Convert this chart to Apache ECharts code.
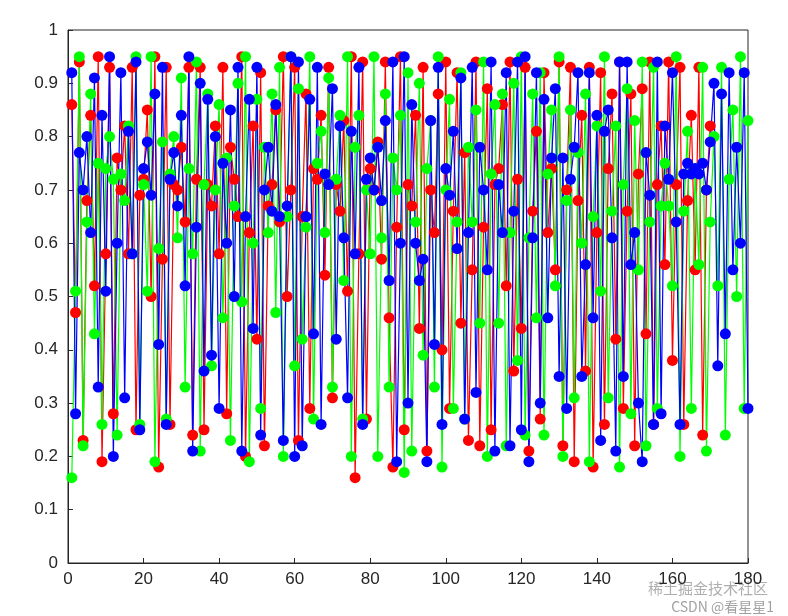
<!DOCTYPE html>
<html>
<head>
<meta charset="utf-8">
<script src="https://cdn.jsdelivr.net/npm/echarts@6/dist/echarts.min.js"></script>
<style>html,body{margin:0;background:#fff}#main{width:788px;height:616px}</style>
</head>
<body>
<div id="main"></div>
<script>
// values, index i -> x = i + 1
let redVals = [0.86,0.47,0.94,0.23,0.68,0.84,0.52,0.95,0.19,0.58,0.93,0.28,0.76,0.70,0.82,0.58,0.93,0.25,0.69,0.72,0.85,0.50,0.95,0.18,0.57,0.93,0.26,0.71,0.70,0.78,0.64,0.93,0.24,0.72,0.93,0.25,0.71,0.67,0.82,0.58,0.93,0.28,0.78,0.72,0.65,0.95,0.20,0.62,0.82,0.42,0.92,0.22,0.67,0.71,0.85,0.64,0.95,0.50,0.70,0.93,0.23,0.65,0.88,0.29,0.74,0.72,0.84,0.54,0.93,0.31,0.71,0.66,0.83,0.51,0.95,0.16,0.58,0.94,0.27,0.74,0.70,0.79,0.57,0.94,0.46,0.18,0.63,0.95,0.25,0.71,0.67,0.84,0.44,0.93,0.21,0.70,0.62,0.88,0.40,0.94,0.29,0.66,0.92,0.45,0.77,0.23,0.55,0.94,0.22,0.63,0.89,0.25,0.71,0.74,0.86,0.52,0.94,0.36,0.72,0.44,0.93,0.21,0.66,0.81,0.27,0.92,0.62,0.74,0.55,0.94,0.22,0.70,0.93,0.19,0.68,0.84,0.36,0.93,0.18,0.62,0.92,0.26,0.74,0.88,0.42,0.94,0.29,0.66,0.88,0.22,0.73,0.89,0.43,0.94,0.26,0.71,0.82,0.56,0.94,0.38,0.71,0.93,0.26,0.68,0.84,0.55,0.93,0.24,0.70,0.82];
let greenVals = [0.16,0.51,0.95,0.22,0.64,0.88,0.43,0.75,0.26,0.74,0.80,0.72,0.24,0.73,0.68,0.82,0.58,0.95,0.26,0.71,0.51,0.95,0.19,0.59,0.79,0.27,0.73,0.80,0.61,0.91,0.33,0.74,0.58,0.94,0.21,0.71,0.88,0.37,0.70,0.86,0.46,0.76,0.23,0.67,0.90,0.49,0.95,0.19,0.60,0.87,0.29,0.78,0.62,0.88,0.47,0.93,0.20,0.65,0.95,0.37,0.89,0.42,0.63,0.95,0.27,0.75,0.81,0.62,0.91,0.33,0.72,0.84,0.53,0.95,0.20,0.78,0.84,0.27,0.70,0.58,0.95,0.20,0.61,0.88,0.33,0.76,0.70,0.84,0.17,0.92,0.21,0.64,0.90,0.39,0.74,0.83,0.33,0.95,0.18,0.70,0.87,0.29,0.64,0.92,0.27,0.78,0.64,0.85,0.45,0.94,0.20,0.73,0.86,0.45,0.88,0.22,0.62,0.90,0.38,0.95,0.24,0.61,0.88,0.46,0.92,0.24,0.73,0.85,0.52,0.95,0.20,0.68,0.85,0.31,0.77,0.60,0.88,0.19,0.65,0.82,0.51,0.95,0.31,0.66,0.82,0.18,0.71,0.89,0.28,0.83,0.55,0.94,0.22,0.64,0.93,0.29,0.67,0.75,0.67,0.52,0.95,0.20,0.66,0.81,0.29,0.74,0.56,0.93,0.21,0.64,0.80,0.52,0.93,0.24,0.72,0.85,0.50,0.95,0.29,0.83];
let blueVals = [0.92,0.28,0.77,0.70,0.80,0.62,0.91,0.33,0.84,0.51,0.95,0.20,0.60,0.92,0.31,0.81,0.58,0.94,0.25,0.74,0.79,0.69,0.88,0.41,0.93,0.26,0.72,0.77,0.67,0.84,0.52,0.95,0.21,0.63,0.90,0.36,0.87,0.39,0.80,0.29,0.75,0.60,0.85,0.50,0.93,0.21,0.65,0.87,0.44,0.93,0.24,0.70,0.78,0.66,0.86,0.65,0.23,0.67,0.95,0.20,0.94,0.22,0.65,0.87,0.43,0.93,0.26,0.73,0.71,0.89,0.42,0.82,0.61,0.31,0.81,0.58,0.93,0.26,0.72,0.76,0.70,0.78,0.68,0.83,0.53,0.94,0.19,0.60,0.95,0.30,0.86,0.60,0.53,0.57,0.19,0.83,0.41,0.93,0.26,0.74,0.69,0.81,0.59,0.91,0.27,0.62,0.93,0.32,0.78,0.70,0.55,0.94,0.21,0.71,0.62,0.92,0.22,0.66,0.94,0.25,0.95,0.19,0.61,0.92,0.30,0.87,0.46,0.76,0.89,0.35,0.76,0.29,0.72,0.78,0.92,0.35,0.56,0.92,0.46,0.84,0.23,0.81,0.85,0.61,0.21,0.94,0.35,0.94,0.56,0.62,0.30,0.19,0.77,0.69,0.26,0.94,0.28,0.82,0.72,0.92,0.64,0.26,0.73,0.75,0.73,0.74,0.73,0.75,0.70,0.79,0.90,0.37,0.88,0.43,0.92,0.55,0.78,0.60,0.92,0.29];
let xTicks = [0,20,40,60,80,100,120,140,160,180];
let yTicks = [0,0.1,0.2,0.3,0.4,0.5,0.6,0.7,0.8,0.9,1];

const toPts = arr => arr.map((v, i) => [i + 1, v]);
const mkSeries = (vals, color) => ({
	type: 'line',
	data: toPts(vals),
	symbol: 'circle',
	symbolSize: 11,
	showAllSymbol: true,
	lineStyle: { color: color, width: 1.2 },
	itemStyle: { color: color },
	animation: false
});

let chart = echarts.init(document.getElementById('main'));
const axisFont = { color: '#262626', fontSize: 17, fontFamily: 'Liberation Sans, Arial' };
chart.setOption({
	backgroundColor: '#fff',
	grid: { left: 68, right: 40, top: 30, bottom: 53, show: true, borderColor: '#262626', borderWidth: 1 },
	xAxis: {
		type: 'value', min: 0, max: 180, interval: 20,
		axisLine: { show: true, lineStyle: { color: '#262626' } },
		axisTick: { inside: true, length: 5, lineStyle: { color: '#262626' } },
		axisLabel: Object.assign({ margin: 8 }, axisFont),
		splitLine: { show: false }
	},
	yAxis: {
		type: 'value', min: 0, max: 1, interval: 0.1,
		axisLine: { show: true, lineStyle: { color: '#262626' } },
		axisTick: { inside: true, length: 5, lineStyle: { color: '#262626' } },
		axisLabel: Object.assign({ margin: 10, formatter: v => String(+v.toFixed(1)) }, axisFont),
		splitLine: { show: false }
	},
	series: [mkSeries(redVals, '#ff0000'), mkSeries(greenVals, '#00ff00'), mkSeries(blueVals, '#0000ff')],
	graphic: [
		{ type: 'text', right: 20, bottom: 20, style: { text: '稀土掘金技术社区', fill: 'rgba(120,120,120,0.6)', font: '15px "Noto Sans CJK SC"' } },
		{ type: 'text', right: 14, bottom: 2, style: { text: 'CSDN @看星星1', fill: 'rgba(120,120,120,0.7)', font: '14px "Noto Sans CJK SC"' } }
	]
});
</script>
</body>
</html>
